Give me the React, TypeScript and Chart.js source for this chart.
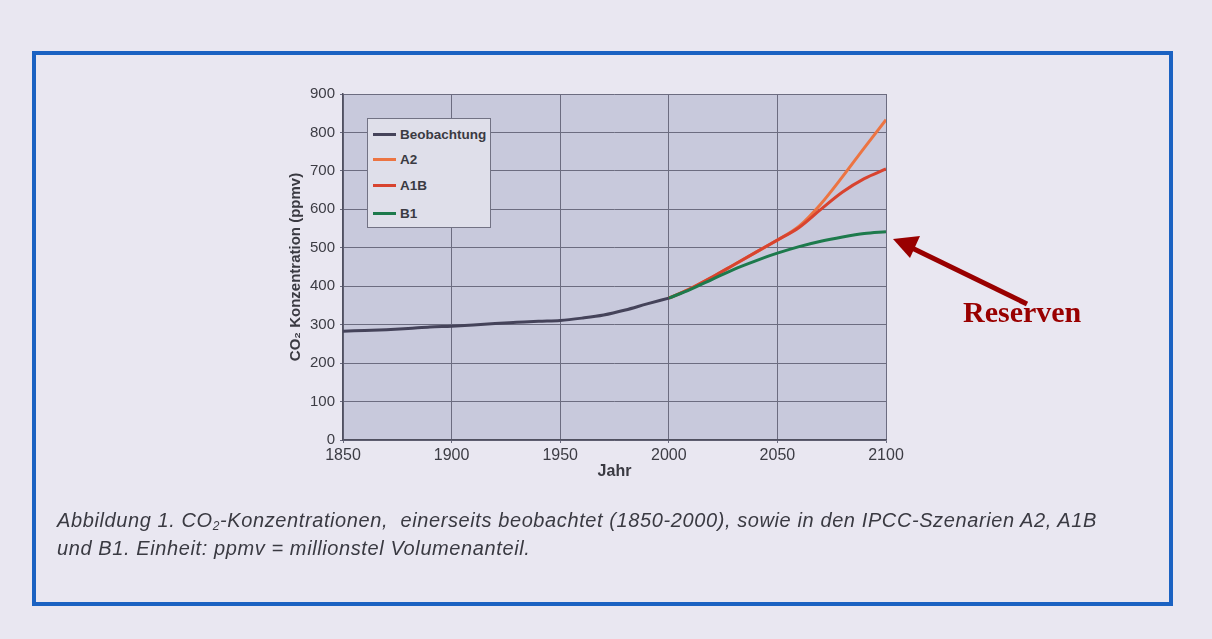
import React, { useEffect, useRef } from "react";
import { Chart, registerables } from "chart.js";

Chart.register(...registerables);

// ---- Data ----
const obsYears = [1850, 1860, 1870, 1880, 1890, 1900, 1910, 1920, 1930, 1940, 1950, 1960, 1970, 1980, 1990, 2000];
const obsValues = [283, 285, 287, 290, 294, 296, 299, 303, 306, 309, 311, 317, 325, 338, 354, 369];

const scenYears = [2000, 2010, 2020, 2030, 2040, 2050, 2060, 2070, 2080, 2090, 2100];
const a2Values = [369, 394, 424, 456, 488, 520, 556, 614, 685, 760, 833];
const a1bValues = [369, 394, 424, 456, 488, 520, 553, 600, 645, 680, 705];
const b1Values = [369, 392, 418, 444, 466, 486, 503, 517, 528, 537, 542];

const seriesNames = ["Beobachtung", "A2", "A1B", "B1"];
const seriesColors = ["#45435a", "#ec7442", "#d8432f", "#1d7a4c"];

const xTicks = [1850, 1900, 1950, 2000, 2050, 2100];
const yMin = 0;
const yMax = 900;
const yStep = 100;

const toPoints = (xs: number[], ys: number[]) => xs.map((x, i) => ({ x, y: ys[i] }));

const W = 1212;
const H = 639;
const PAGE_BG = "#e9e7f1";
const PLOT_BG = "#c8c9dc";
const GRID = "#6c6c80";
const FONT = "'Liberation Sans', Arial, sans-serif";

const plotBgPlugin = {
  id: "plotBg",
  beforeDraw(chart: any) {
    const { ctx, chartArea } = chart;
    if (!chartArea) return;
    ctx.save();
    ctx.fillStyle = PLOT_BG;
    ctx.fillRect(chartArea.left, chartArea.top, chartArea.right - chartArea.left, chartArea.bottom - chartArea.top);
    ctx.restore();
  },
};

export default function App() {
  const canvasRef = useRef<HTMLCanvasElement | null>(null);

  useEffect(() => {
    document.body.style.margin = "0";
    document.body.style.background = PAGE_BG;
    const canvas = canvasRef.current;
    if (!canvas) return;
    const valueSets = [toPoints(obsYears, obsValues), toPoints(scenYears, a2Values), toPoints(scenYears, a1bValues), toPoints(scenYears, b1Values)];
    const orders = [0, 3, 2, 1];
    const chart = new Chart(canvas, {
      type: "line",
      data: {
        datasets: seriesNames.map((name, i) => ({
          label: name,
          data: valueSets[i],
          borderColor: seriesColors[i],
          backgroundColor: seriesColors[i],
          borderWidth: 3,
          pointRadius: 0,
          cubicInterpolationMode: "monotone" as const,
          fill: false,
          order: orders[i],
        })),
      },
      options: {
        responsive: false,
        animation: false,
        devicePixelRatio: 1,
        layout: { padding: { left: 270, right: W - 886, top: 94, bottom: H - 440 - 45 } },
        plugins: { legend: { display: false }, tooltip: { enabled: false } },
        scales: {
          x: {
            type: "linear",
            min: 1850,
            max: 2100,
            afterFit(scale: any) {
              scale.height = 45;
            },
            afterBuildTicks(scale: any) {
              scale.ticks = xTicks.map((v) => ({ value: v }));
            },
            grid: { color: GRID, lineWidth: 1, tickLength: 3, drawTicks: true },
            border: { color: "#505060", width: 1.5 },
            ticks: {
              color: "#3c3c44",
              font: { family: FONT, size: 16 },
              padding: 3,
              maxRotation: 0,
              callback: (v: any) => String(v),
            },
            title: {
              display: true,
              text: "Jahr",
              color: "#3a3a42",
              font: { family: FONT, size: 16, weight: "bold" },
              padding: { top: 0, bottom: 4 },
            },
          },
          y: {
            type: "linear",
            min: yMin,
            max: yMax,
            afterFit(scale: any) {
              scale.width = 73;
            },
            grid: { color: GRID, lineWidth: 1, tickLength: 3, drawTicks: true },
            border: { color: "#505060", width: 1.5 },
            ticks: { stepSize: yStep, color: "#3c3c44", font: { family: FONT, size: 15 }, padding: 5 },
            title: {
              display: true,
              text: "CO₂ Konzentration (ppmv)",
              color: "#3a3a42",
              font: { family: FONT, size: 15, weight: "bold" },
              padding: { top: 17, bottom: 0 },
            },
          },
        },
      },
      plugins: [plotBgPlugin],
    });
    return () => chart.destroy();
  }, []);

  const legendRows = [15, 40, 66, 94];

  return (
    <div style={{ position: "fixed", left: 0, top: 0, width: W, height: H, background: PAGE_BG, overflow: "hidden" }}>
      {/* blue frame */}
      <div
        style={{
          position: "absolute",
          left: 32,
          top: 51,
          width: 1173 - 32,
          height: 606 - 51,
          border: "4px solid #1b62c2",
          boxSizing: "border-box",
        }}
      />
      <canvas ref={canvasRef} width={W} height={H} style={{ position: "absolute", left: 0, top: 0, width: W, height: H }} />
      {/* legend */}
      <div
        style={{
          position: "absolute",
          left: 367,
          top: 118,
          width: 124,
          height: 110,
          boxSizing: "border-box",
          background: "#dfdfea",
          border: "1px solid #727284",
        }}
      >
        {seriesNames.map((name, i) => (
          <div key={name} style={{ position: "absolute", left: 5, top: legendRows[i] - 8, height: 16, display: "flex", alignItems: "center" }}>
            <div style={{ width: 23, height: 3, background: seriesColors[i], marginRight: 4 }} />
            <span style={{ fontFamily: FONT, fontWeight: "bold", fontSize: 13.5, color: "#3a3a42", whiteSpace: "nowrap" }}>{name}</span>
          </div>
        ))}
      </div>
      {/* arrow */}
      <svg width={W} height={H} style={{ position: "absolute", left: 0, top: 0 }}>
        <line x1={1027} y1={304} x2={910} y2={247} stroke="#990000" strokeWidth={5} />
        <polygon points="893,239 920,236 910,258" fill="#990000" />
      </svg>
      <div
        style={{
          position: "absolute",
          left: 963,
          top: 294,
          fontFamily: "'Liberation Serif', 'Times New Roman', serif",
          fontWeight: "bold",
          fontSize: 30,
          color: "#990000",
          lineHeight: "36px",
          whiteSpace: "nowrap",
        }}
      >
        Reserven
      </div>
      {/* caption */}
      <div
        style={{
          position: "absolute",
          left: 57,
          top: 506,
          fontFamily: FONT,
          fontStyle: "italic",
          fontSize: 20,
          color: "#3a3a42",
          lineHeight: "28px",
          whiteSpace: "nowrap",
          letterSpacing: "0.6px",
        }}
      >
        <div style={{ height: 28 }}>
          Abbildung 1. CO<sub style={{ fontSize: 12, verticalAlign: "-3px", lineHeight: 0 }}>2</sub>-Konzentrationen,&nbsp; einerseits beobachtet (1850-2000), sowie in den IPCC-Szenarien A2, A1B
        </div>
        <div style={{ height: 28 }}>und B1. Einheit: ppmv = millionstel Volumenanteil.</div>
      </div>
    </div>
  );
}
